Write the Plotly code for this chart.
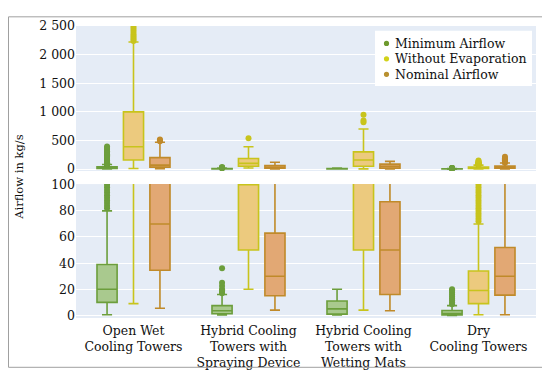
import plotly.graph_objects as go

# ---------------- data ----------------
categories = ["Open Wet<br>Cooling Towers",
              "Hybrid Cooling<br>Towers with<br>Spraying Device",
              "Hybrid Cooling<br>Towers with<br>Wetting Mats",
              "Dry<br>Cooling Towers"]
series_names = ["Minimum Airflow", "Without Evaporation", "Nominal Airflow"]

# Minimum Airflow
min_q1 = [10, 1.2, 1.0, 0.3]
min_med = [20, 3.5, 5.0, 1.5]
min_q3 = [39, 7.5, 11, 3.7]
min_lo = [0.5, 0.3, 0.3, 0]
min_hi = [80, 16, 20, 7.5]
min_out = [
    [82, 84, 86, 88, 90, 92, 94, 96, 98, 100, 105, 110, 120, 130, 140, 150,
     165, 180, 200, 220, 240, 260, 285, 310, 340, 370, 395],
    [17, 18, 19, 20, 22.5, 25, 36],
    [],
    [8.5, 10, 11.5, 13, 14.5, 16, 17.5, 19, 20],
]

# Without Evaporation
woe_q1 = [160, 50, 50, 9]
woe_med = [390, 100, 160, 19]
woe_q3 = [1000, 185, 300, 34]
woe_lo = [9, 20, 4, 0.5]
woe_hi = [2220, 390, 700, 70]
woe_out = [
    [2240, 2270, 2300, 2330, 2360, 2400, 2440, 2480, 2520],
    [540],
    [820, 850, 950],
    [72, 74, 76, 78, 80, 82, 84, 86, 88, 90, 92, 94, 96, 98, 100, 110, 120,
     135, 150],
]

# Nominal Airflow
nom_q1 = [34.5, 15, 16, 15.5]
nom_med = [70, 30, 50, 30]
nom_q3 = [200, 63, 87, 52]
nom_lo = [5.5, 4, 3.5, 0.5]
nom_hi = [470, 120, 135, 106]
nom_out = [
    [485, 500, 515],
    [],
    [],
    [110, 118, 128, 140, 155, 170, 190, 215],
]

# ---------------- styles ----------------
line_colors = ["#6c9e3c", "#c8c41c", "#c08a2a"]
fill_colors = ["#a9c98e", "#ecca7e", "#e2a874"]
legend_colors = ["#6e9a2e", "#d2d21a", "#b89030"]
offsets = [-0.23, 0.0, 0.23]
box_w = 0.175
font_family = "DejaVu Serif"

stats = [
    (min_q1, min_med, min_q3, min_lo, min_hi, min_out),
    (woe_q1, woe_med, woe_q3, woe_lo, woe_hi, woe_out),
    (nom_q1, nom_med, nom_q3, nom_lo, nom_hi, nom_out),
]

fig = go.Figure()
for k, (q1, med, q3, lo, hi, outs) in enumerate(stats):
    pos = [i + offsets[k] for i in range(len(categories))]
    ox, oy = [], []
    for i, vals in enumerate(outs):
        ox += [pos[i]] * len(vals)
        oy += vals
    for xa, ya in (("x", "y"), ("x2", "y2")):
        fig.add_trace(go.Box(
            x=pos, q1=q1, median=med, q3=q3, lowerfence=lo, upperfence=hi,
            width=box_w, boxpoints=False, name=series_names[k],
            line=dict(color=line_colors[k], width=1.6),
            fillcolor=fill_colors[k], showlegend=False, hoverinfo="skip",
            xaxis=xa, yaxis=ya))
        fig.add_trace(go.Scatter(
            x=ox, y=oy, mode="markers", name=series_names[k],
            marker=dict(color=line_colors[k], size=6),
            showlegend=False, hoverinfo="skip", xaxis=xa, yaxis=ya,
            cliponaxis=True))

# The page body adds an 8 px offset, so the figure is 8 px smaller than the
# window; positions below are in window pixels, relative to the plot area.
OFF = 8
PL, PR, PT, PB = 76, 536, 18, 320          # plot area in window pixels
W, H = 550 - OFF, 380 - OFF
pw, ph = PR - PL, PB - PT
margin = dict(l=PL - OFF, r=W - (PR - OFF), t=PT - OFF, b=H - (PB - OFF))

def px_x(p):
    return (p - PL) / pw

def px_y(p):
    return (PB - p) / ph

# legend drawn as a boxed key (white panel, dots, labels)
leg_rows = [36, 52, 68]
shapes = [dict(type="rect", xref="paper", yref="paper",
               x0=px_x(375), x1=px_x(532), y0=px_y(80), y1=px_y(23),
               fillcolor="white", line=dict(width=0), layer="above")]
annotations = []
for k, name in enumerate(series_names):
    shapes.append(dict(type="circle", xref="paper", yref="paper",
                       xsizemode="pixel", ysizemode="pixel",
                       xanchor=px_x(386.5), yanchor=px_y(leg_rows[k]),
                       x0=-2.6, x1=2.6, y0=-2.6, y1=2.6,
                       fillcolor=legend_colors[k], line=dict(width=0),
                       layer="above"))
    annotations.append(dict(text=name, xref="paper", yref="paper",
                            x=px_x(393), y=px_y(leg_rows[k]),
                            xanchor="left", yanchor="middle",
                            showarrow=False, font=dict(size=12.5)))
annotations.append(dict(text="Airflow in kg/s", xref="paper", yref="paper",
                        x=px_x(19), y=px_y(174), textangle=-90,
                        showarrow=False, font=dict(size=11.5),
                        xanchor="center", yanchor="middle"))
shapes.append(dict(type="rect", xref="paper", yref="paper",
                   x0=px_x(OFF + 0.5), x1=px_x(544), y0=px_y(371),
                   y1=px_y(OFF + 0.5),
                   line=dict(color="#a0a0a0", width=1), layer="above"))

fig.update_layout(
    width=W, height=H,
    margin=margin,
    template="plotly",
    paper_bgcolor="white",
    plot_bgcolor="#e5ecf6",
    font=dict(family=font_family, size=12.5, color="#111"),
    separators=". ",
    boxmode="overlay",
    showlegend=False,
    xaxis=dict(domain=[0, 1], anchor="y", range=[-0.5, 3.5],
               showticklabels=False, showgrid=False, zeroline=False,
               matches="x2"),
    xaxis2=dict(domain=[0, 1], anchor="y2", range=[-0.5, 3.5],
                tickmode="array", tickvals=list(range(len(categories))),
                ticktext=categories, showgrid=False, zeroline=False,
                tickfont=dict(size=12.5), ticklabelstandoff=3),
    yaxis=dict(domain=[px_y(168), 1], range=[-34, 2500], tick0=0, dtick=500,
               separatethousands=True, gridcolor="white", zeroline=False,
               tickfont=dict(size=12.5)),
    yaxis2=dict(domain=[0, px_y(181.5)], range=[-2, 100.5], tick0=0, dtick=20,
                gridcolor="white", zeroline=False, tickfont=dict(size=12.5)),
    annotations=annotations,
    shapes=shapes,
)

fig.write_html("out.html")
